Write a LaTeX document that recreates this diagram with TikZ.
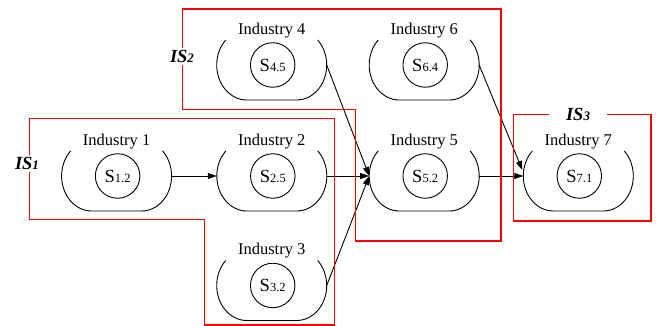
\documentclass[tikz,border=0pt]{standalone}
\usepackage{fontspec}
\setmainfont{Liberation Serif}
\usetikzlibrary{arrows.meta,calc}
\tikzset{
  shapeline/.style={line width=0.9pt,black},
  industry/.pic={\draw[shapeline] (-25,0) ++(134.4:30 and 35)
      arc[start angle=134.4,end angle=270,x radius=30,y radius=35] -- ++(50,0)
      arc[start angle=270,end angle=405.6,x radius=30,y radius=35];},
  sbox/.style={draw,line width=0.9pt,circle,minimum size=44.5pt,inner sep=0pt},
  ilabel/.style={inner sep=0pt,font=\fontsize{16.5}{18}\selectfont},
  flow/.style={line width=0.9pt,-{Triangle[length=9pt,width=6pt]}},
  isline/.style={red,line width=1.5pt},
  islabel/.style={fill=white,inner sep=2pt}
}
\newcommand{\sval}[2]{{\fontsize{18.5}{20}\selectfont #1}{\fontsize{12.5}{14}\selectfont #2}}
\newcommand{\islab}[1]{{\fontsize{18.5}{20}\selectfont\bfseries\itshape IS}{\fontsize{13}{14}\selectfont\bfseries\itshape #1}}
\begin{document}
\begin{tikzpicture}[x=1pt,y=1pt]
\useasboundingbox (0,0) rectangle (656,326);
% industries: centre x, centre y
\foreach \n/\cx/\cy/\sv in {1/116.6/150/1.2, 2/271.8/150/2.5, 3/271.7/40.5/3.2,
    4/271.7/261/4.5, 5/424.2/150/5.2, 6/424.2/261/6.4, 7/578.3/150/7.1}{
  \pic at (\cx,\cy) {industry};
  \node[sbox] (s\n) at (\cx+1,\cy) {\sval{S}{\sv}};
  \node[ilabel] (t\n) at (\cx,\cy+34.5) {Industry \n};
  \coordinate (l\n) at (\cx-55,\cy);
  \coordinate (r\n) at (\cx+55,\cy);
}
\coordinate (l7u) at ($(l7)+(-1,6)$);
% connectors
\draw[flow] (r1) -- (l2);
\draw[flow] (r2) -- (l5);
\draw[flow] (r4) -- (l5);
\draw[flow] (r3) -- (l5);
\draw[flow] (r5) -- (l7);
\draw[flow] (r6) -- (l7u);
% industrial systems
\draw[isline] (29.3,207.5) -- (334.3,207.5) -- (334.3,1) -- (204.3,1) -- (204.3,106.7) -- (29.3,106.7) -- cycle;
\draw[isline] (182.7,317) -- (501,317) -- (501,85) -- (355.7,85) -- (355.7,216.7) -- (182.7,216.7) -- cycle;
\draw[isline] (513.3,105) rectangle (651,211.5);
\node[islabel] (is1) at (27,162.5) {\islab{1}};
\node[islabel] (is2) at (182,269.5) {\islab{2}};
\node[islabel,inner xsep=17pt] (is3) at (578,212) {\islab{3}};
\end{tikzpicture}
\end{document}
